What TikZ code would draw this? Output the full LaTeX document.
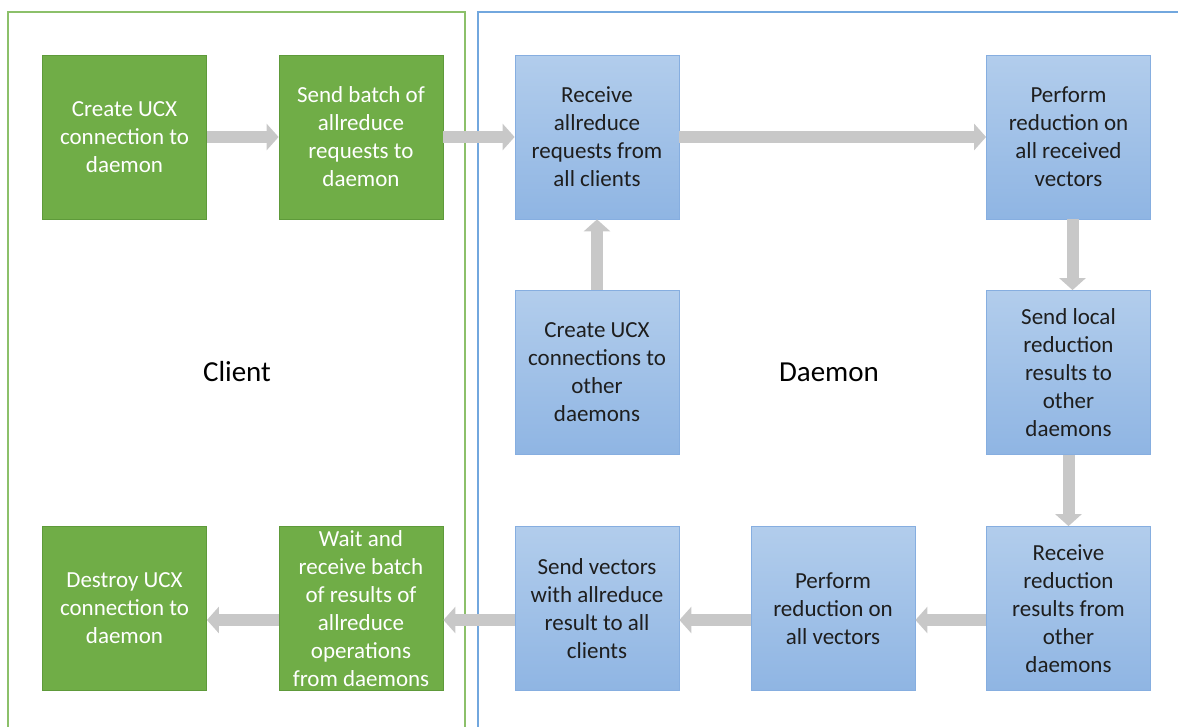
\documentclass[tikz,border=0pt]{standalone}
\usepackage{fontspec}
\setmainfont{Carlito}
\usetikzlibrary{arrows.meta}
\definecolor{gfill}{HTML}{70AD47}
\definecolor{gedge}{HTML}{5E9A3A}
\definecolor{gframe}{HTML}{8CC06A}
\definecolor{bframe}{HTML}{72A7DE}
\definecolor{btop}{HTML}{B2CDEC}
\definecolor{bbot}{HTML}{8FB5E3}
\definecolor{bedge}{HTML}{86AEE0}
\definecolor{agray}{HTML}{C8C8C8}
\definecolor{btext}{HTML}{1E1E1E}
\begin{document}
\begin{tikzpicture}[x=1pt,y=-1pt,
  box/.style={minimum width=164pt,minimum height=164pt,inner sep=0pt,align=center,
    font=\fontsize{23}{28}\selectfont},
  gbox/.style={box,fill=gfill,draw=gedge,line width=0.8pt,text=white},
  bbox/.style={box,top color=btop,bottom color=bbot,draw=bedge,line width=0.8pt,text=btext},
  blockarr/.style={draw=agray,line width=12pt,-{Triangle[width=26pt,length=12pt]}},
  lbl/.style={font=\fontsize{29}{34}\selectfont,text=black}]
\useasboundingbox (0,0) rectangle (1178,726);
\clip (0,0) rectangle (1178,726);
% frames
\draw[gframe,line width=1.5pt] (8,12) rectangle (465,760);
\draw[bframe,line width=1.5pt] (478,12) rectangle (1200,760);
\node[lbl] (client) at (237,372) {Client};
\node[lbl] (daemon) at (829,372) {Daemon};
% nodes
\node[gbox] (g1) at (124.5,137) {Create UCX\\connection to\\daemon};
\node[gbox] (g2) at (361,137) {Send batch of\\allreduce\\requests to\\daemon};
\node[bbox] (b1) at (597,137) {Receive\\allreduce\\requests from\\all clients};
\node[bbox] (b2) at (1068.5,137) {Perform\\reduction on\\all received\\vectors};
\node[bbox] (b3) at (597,372.5) {Create UCX\\connections to\\other\\daemons};
\node[bbox] (b4) at (1068.5,372.5) {Send local\\reduction\\results to\\other\\daemons};
\node[bbox] (b5) at (1068.5,608.5) {Receive\\reduction\\results from\\other\\daemons};
\node[bbox] (b6) at (833,608.5) {Perform\\reduction on\\all vectors};
\node[bbox] (b7) at (597,608.5) {Send vectors\\with allreduce\\result to all\\clients};
\node[gbox] (g3) at (361,608.5) {Wait and\\receive batch\\of results of\\allreduce\\operations\\from daemons};
\node[gbox] (g4) at (124.5,608.5) {Destroy UCX\\connection to\\daemon};
% arrows
\draw[blockarr] (g1.east) -- (g2.west);
\draw[blockarr] (g2.east) -- (b1.west);
\draw[blockarr] (b1.east) -- (b2.west);
\draw[blockarr] (b3.north) -- (b1.south);
\draw[blockarr] ([xshift=4pt]b2.south) -- ([xshift=4pt]b4.north);
\draw[blockarr] (b4.south) -- (b5.north);
\draw[blockarr] ([yshift=-11.5pt]b5.west) -- ([yshift=-11.5pt]b6.east);
\draw[blockarr] ([yshift=-11.5pt]b6.west) -- ([yshift=-11.5pt]b7.east);
\draw[blockarr] ([yshift=-11.5pt]b7.west) -- ([yshift=-11.5pt]g3.east);
\draw[blockarr] ([yshift=-11.5pt]g3.west) -- ([yshift=-11.5pt]g4.east);
\end{tikzpicture}
\end{document}
